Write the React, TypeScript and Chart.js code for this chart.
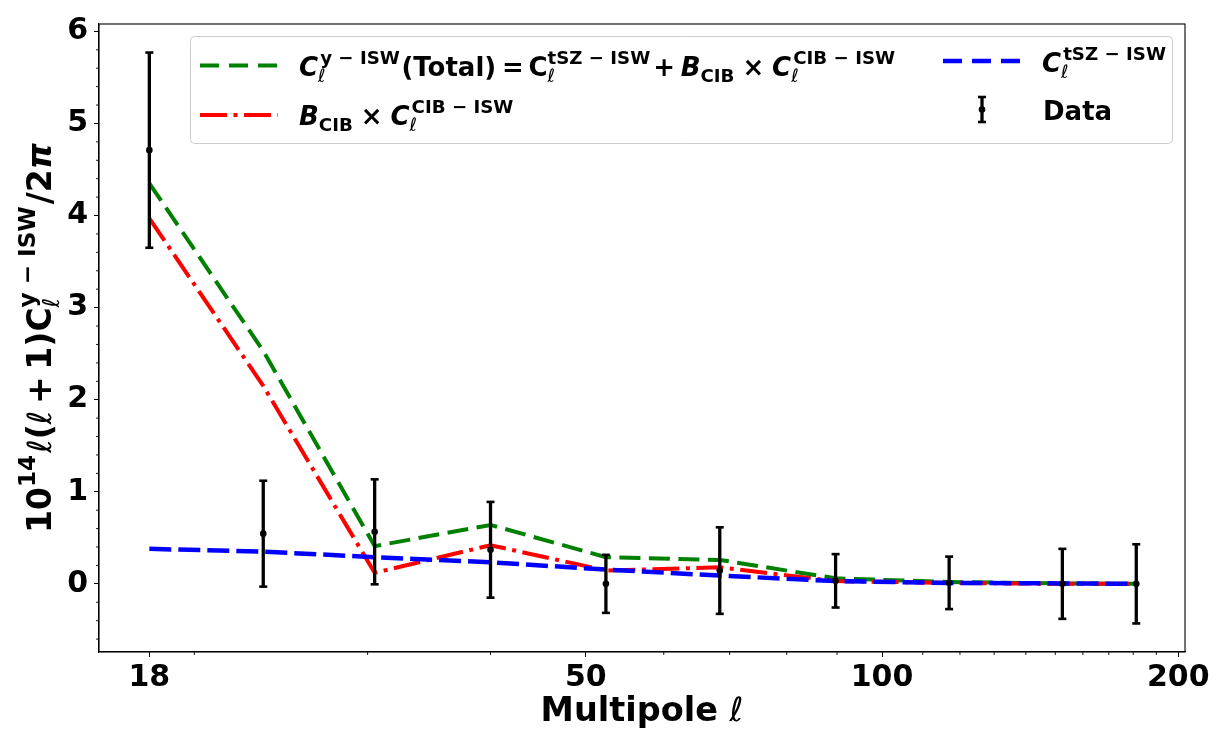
import React, { useEffect, useRef } from 'react';
import { Chart, registerables } from 'chart.js';

Chart.register(...registerables);

// ---------------- data ----------------
const ells = [18, 23.5, 30.5, 40, 52.4, 68.4, 89.7, 117, 152.5, 181.3];
const totalModel = [4.35, 2.53, 0.41, 0.64, 0.29, 0.26, 0.06, 0.02, 0.005, 0.0];
const cibModel = [3.97, 2.15, 0.12, 0.42, 0.145, 0.18, 0.03, 0.01, 0.0, 0.0];
const tszModel = [0.38, 0.35, 0.29, 0.235, 0.155, 0.09, 0.03, 0.01, 0.005, 0.0];
const dataValues = [4.71, 0.545, 0.565, 0.37, 0.0, 0.144, 0.033, 0.011, 0.0, 0.0];
const dataErrors = [1.06, 0.575, 0.57, 0.52, 0.315, 0.47, 0.29, 0.285, 0.38, 0.43];

const xMajorTicks = [18, 50, 100, 200];
const xMinorTicks = [20, 30, 40, 60, 70, 80, 90, 110, 120, 130, 140, 150, 160, 170, 180, 190];
const yMajorTicks = [0, 1, 2, 3, 4, 5, 6];
const yMinorTicks = [-0.6, -0.4, -0.2, 0.2, 0.4, 0.6, 0.8, 1.2, 1.4, 1.6, 1.8, 2.2, 2.4, 2.6, 2.8,
  3.2, 3.4, 3.6, 3.8, 4.2, 4.4, 4.6, 4.8, 5.2, 5.4, 5.6, 5.8];

const FAM = '"DejaVu Sans", "Liberation Sans", sans-serif';

const GREEN = '#008000';
const RED = '#ff0000';
const BLUE = '#0000ff';
const GREEN_DASH = [21, 8.5];
const RED_DASH = [27, 6.5, 4, 6.5];
const BLUE_DASH = [22, 7];

// ---------------- mini math-text ----------------
type Piece = { t: string; st: string; sc?: number; rise?: number; padL?: number; padR?: number };
type Script = { sub?: Piece; sup?: Piece; dx?: number };
type Item = Piece | Script;

const SUB_DROP = 0.24;
const SUP_RISE = 0.47;

function fontOf(p: Piece, size: number) {
  return `${p.st} ${(size * (p.sc ?? 1)).toFixed(2)}px ${FAM}`;
}
function isPiece(it: Item): it is Piece {
  return (it as Piece).t !== undefined;
}
function drawMath(ctx: CanvasRenderingContext2D, items: Item[], x: number, y: number, size: number, dry = false) {
  ctx.textBaseline = 'alphabetic';
  ctx.textAlign = 'left';
  let cx = x;
  for (const it of items) {
    if (isPiece(it)) {
      ctx.font = fontOf(it, size);
      cx += (it.padL ?? 0) * size;
      if (!dry) ctx.fillText(it.t, cx, y - (it.rise ?? 0) * size);
      cx += ctx.measureText(it.t).width + (it.padR ?? 0) * size;
    } else {
      let m = 0;
      const dx = (it.dx ?? 0) * size;
      if (it.sub) {
        const p = { sc: 0.7, ...it.sub };
        ctx.font = fontOf(p, size);
        if (!dry) ctx.fillText(p.t, cx, y + SUB_DROP * size);
        m = Math.max(m, ctx.measureText(p.t).width);
      }
      if (it.sup) {
        const p = { sc: 0.7, ...it.sup };
        ctx.font = fontOf(p, size);
        if (!dry) ctx.fillText(p.t, cx + dx, y - SUP_RISE * size);
        m = Math.max(m, ctx.measureText(p.t).width + dx);
      }
      cx += m + 0.06 * size;
    }
  }
  return cx - x;
}

const B = 'bold';
const BI = 'italic bold';
const I = 'italic';
const ell: Piece = { t: 'ℓ', st: I };

const legendTotal: Item[] = [
  { t: 'C', st: BI },
  { sub: ell, sup: { t: 'y − ISW', st: B }, dx: 0.08 },
  { t: '(Total)', st: B },
  { t: '=', st: B, padL: 0.22, padR: 0.18 },
  { t: 'C', st: B },
  { sub: ell, sup: { t: 'tSZ − ISW', st: B } },
  { t: '+', st: B, padL: 0.05, padR: 0.22 },
  { t: 'B', st: BI },
  { sub: { t: 'CIB', st: B } },
  { t: '×', st: B, padL: 0.25, padR: 0.3 },
  { t: 'C', st: BI },
  { sub: ell, sup: { t: 'CIB − ISW', st: B }, dx: 0.08 },
];
const legendCib: Item[] = [
  { t: 'B', st: BI },
  { sub: { t: 'CIB', st: B } },
  { t: '×', st: B, padL: 0.25, padR: 0.3 },
  { t: 'C', st: BI },
  { sub: ell, sup: { t: 'CIB − ISW', st: B }, dx: 0.08 },
];
const legendTsz: Item[] = [
  { t: 'C', st: BI },
  { sub: ell, sup: { t: 'tSZ − ISW', st: B }, dx: 0.08 },
];
const legendData: Item[] = [{ t: 'Data', st: B }];

const yTitle: Item[] = [
  { t: '10', st: B },
  { sup: { t: '14', st: B } },
  { t: 'ℓ', st: I },
  { t: '(', st: B },
  { t: 'ℓ', st: I },
  { t: '+', st: B, padL: 0.2, padR: 0.2 },
  { t: '1', st: B },
  { t: ')', st: B },
  { t: 'C', st: B },
  { sub: ell, sup: { t: 'y − ISW', st: B } },
  { t: '/2', st: B },
  { t: 'π', st: BI },
];
const xTitle: Item[] = [
  { t: 'Multipole ', st: B },
  { t: 'ℓ', st: I },
];

function line(ctx: CanvasRenderingContext2D, x1: number, y1: number, x2: number, y2: number) {
  ctx.beginPath();
  ctx.moveTo(x1, y1);
  ctx.lineTo(x2, y2);
  ctx.stroke();
}

function errorBar(ctx: CanvasRenderingContext2D, x: number, yTop: number, yBot: number) {
  ctx.strokeStyle = '#000';
  ctx.setLineDash([]);
  ctx.lineCap = 'butt';
  ctx.lineWidth = 3.3;
  line(ctx, x, yTop, x, yBot);
  ctx.lineWidth = 2.6;
  line(ctx, x - 4, yTop, x + 4, yTop);
  line(ctx, x - 4, yBot, x + 4, yBot);
}

const customPlugin = {
  id: 'customDecor',
  beforeDraw(chart: any) {
    const ctx = chart.ctx;
    ctx.save();
    ctx.fillStyle = '#fff';
    ctx.fillRect(0, 0, chart.width, chart.height);
    ctx.restore();
  },
  afterDatasetsDraw(chart: any) {
    const ctx: CanvasRenderingContext2D = chart.ctx;
    const xs = chart.scales.x;
    const ys = chart.scales.y;
    ctx.save();
    ells.forEach((l, i) => {
      const px = xs.getPixelForValue(l);
      errorBar(ctx, px, ys.getPixelForValue(dataValues[i] + dataErrors[i]), ys.getPixelForValue(dataValues[i] - dataErrors[i]));
      ctx.fillStyle = '#000';
      ctx.beginPath();
      ctx.arc(px, ys.getPixelForValue(dataValues[i]), 3.3, 0, Math.PI * 2);
      ctx.fill();
    });
    ctx.restore();
  },
  afterDraw(chart: any) {
    const ctx: CanvasRenderingContext2D = chart.ctx;
    const xs = chart.scales.x;
    const ys = chart.scales.y;
    const a = chart.chartArea;
    ctx.save();
    // spines
    ctx.strokeStyle = '#000';
    ctx.lineWidth = 1.1;
    ctx.setLineDash([]);
    ctx.strokeRect(a.left, a.top, a.right - a.left, a.bottom - a.top);
    // minor ticks
    ctx.lineWidth = 0.9;
    xMinorTicks.forEach((v) => {
      const px = xs.getPixelForValue(v);
      line(ctx, px, a.bottom, px, a.bottom + 3);
    });
    yMinorTicks.forEach((v) => {
      const py = ys.getPixelForValue(v);
      line(ctx, a.left - 3, py, a.left, py);
    });

    // legend box
    ctx.fillStyle = 'rgba(255,255,255,0.8)';
    ctx.strokeStyle = '#cccccc';
    ctx.lineWidth = 1;
    ctx.beginPath();
    (ctx as any).roundRect(190.5, 36.5, 982, 107, 4);
    ctx.fill();
    ctx.stroke();

    // legend handles
    ctx.lineCap = 'butt';
    ctx.lineWidth = 4;
    ctx.strokeStyle = GREEN;
    ctx.setLineDash([19, 10]);
    line(ctx, 200, 65.5, 278, 65.5);
    ctx.strokeStyle = RED;
    ctx.setLineDash(RED_DASH);
    line(ctx, 200, 115, 278, 115);
    ctx.strokeStyle = BLUE;
    ctx.lineWidth = 4.5;
    ctx.setLineDash([19, 10]);
    line(ctx, 943, 61, 1020, 61);
    ctx.setLineDash([]);
    errorBar(ctx, 982, 97, 122);
    ctx.fillStyle = '#000';
    ctx.beginPath();
    ctx.arc(982, 109.5, 3.3, 0, Math.PI * 2);
    ctx.fill();

    // legend texts
    ctx.fillStyle = '#000';
    drawMath(ctx, legendTotal, 299, 76, 26);
    drawMath(ctx, legendCib, 299, 125, 26);
    drawMath(ctx, legendTsz, 1042, 72, 26);
    drawMath(ctx, legendData, 1043, 120, 26);

    // x title
    const xc = (a.left + a.right) / 2;
    const wx = drawMath(ctx, xTitle, 0, 0, 33.5, true);
    drawMath(ctx, xTitle, xc - wx / 2, 721, 33.5);

    // y title
    const yc = (a.top + a.bottom) / 2;
    ctx.translate(51, yc);
    ctx.rotate(-Math.PI / 2);
    const wy = drawMath(ctx, yTitle, 0, 0, 33, true);
    drawMath(ctx, yTitle, -wy / 2, 0, 33);
    ctx.restore();
  },
};

export default function App() {
  const ref = useRef<HTMLCanvasElement | null>(null);
  useEffect(() => {
    if (!ref.current) return;
    const pts = (arr: number[]) => ells.map((x, i) => ({ x, y: arr[i] }));
    const tickFont = { family: FAM, weight: 'bold' as const, size: 30 };
    const chart = new Chart(ref.current, {
      type: 'line',
      data: {
        datasets: [
          { label: 'total', data: pts(totalModel), borderColor: GREEN, borderDash: GREEN_DASH, borderWidth: 4, pointRadius: 0, fill: false, tension: 0, order: 4 },
          { label: 'cib', data: pts(cibModel), borderColor: RED, borderDash: RED_DASH, borderWidth: 4, pointRadius: 0, fill: false, tension: 0, order: 3 },
          { label: 'tsz', data: pts(tszModel), borderColor: BLUE, borderDash: BLUE_DASH, borderWidth: 4.5, pointRadius: 0, fill: false, tension: 0, order: 2 },
          { label: 'data', data: pts(dataValues), showLine: false, pointRadius: 0, borderColor: '#000', backgroundColor: '#000', order: 1 },
        ],
      },
      options: {
        responsive: false,
        animation: false,
        devicePixelRatio: 1,
        layout: { padding: { top: 23, right: 43, left: 0, bottom: 0 } },
        plugins: { legend: { display: false }, tooltip: { enabled: false } },
        events: [],
        scales: {
          x: {
            type: 'logarithmic',
            min: 16.0,
            max: 203.2,
            afterBuildTicks: (s: any) => { s.ticks = xMajorTicks.map((v) => ({ value: v })); },
            afterFit: (s: any) => { s.height = 82; },
            ticks: {
              autoSkip: false,
              maxRotation: 0,
              minRotation: 0,
              padding: 3,
              color: '#000',
              font: tickFont,
              callback: (v: any) => String(v),
            },
            grid: { drawOnChartArea: false, drawTicks: true, tickLength: 5, tickColor: '#000', tickWidth: 1 },
            border: { display: true, color: '#000', width: 1.1 },
          },
          y: {
            type: 'linear',
            min: -0.74,
            max: 6.08,
            afterBuildTicks: (s: any) => { s.ticks = yMajorTicks.map((v) => ({ value: v })); },
            afterFit: (s: any) => { s.width = 99; },
            ticks: {
              autoSkip: false,
              padding: 6,
              color: '#000',
              font: tickFont,
              callback: (v: any) => String(v),
            },
            grid: { drawOnChartArea: false, drawTicks: true, tickLength: 5, tickColor: '#000', tickWidth: 1 },
            border: { display: true, color: '#000', width: 1.1 },
          },
        },
      },
      plugins: [customPlugin],
    } as any);
    return () => chart.destroy();
  }, []);
  return (
    <div style={{ position: 'fixed', left: 0, top: 0, width: 1228, height: 734, background: '#fff' }}>
      <canvas ref={ref} width={1228} height={734} style={{ display: 'block' }} />
    </div>
  );
}
